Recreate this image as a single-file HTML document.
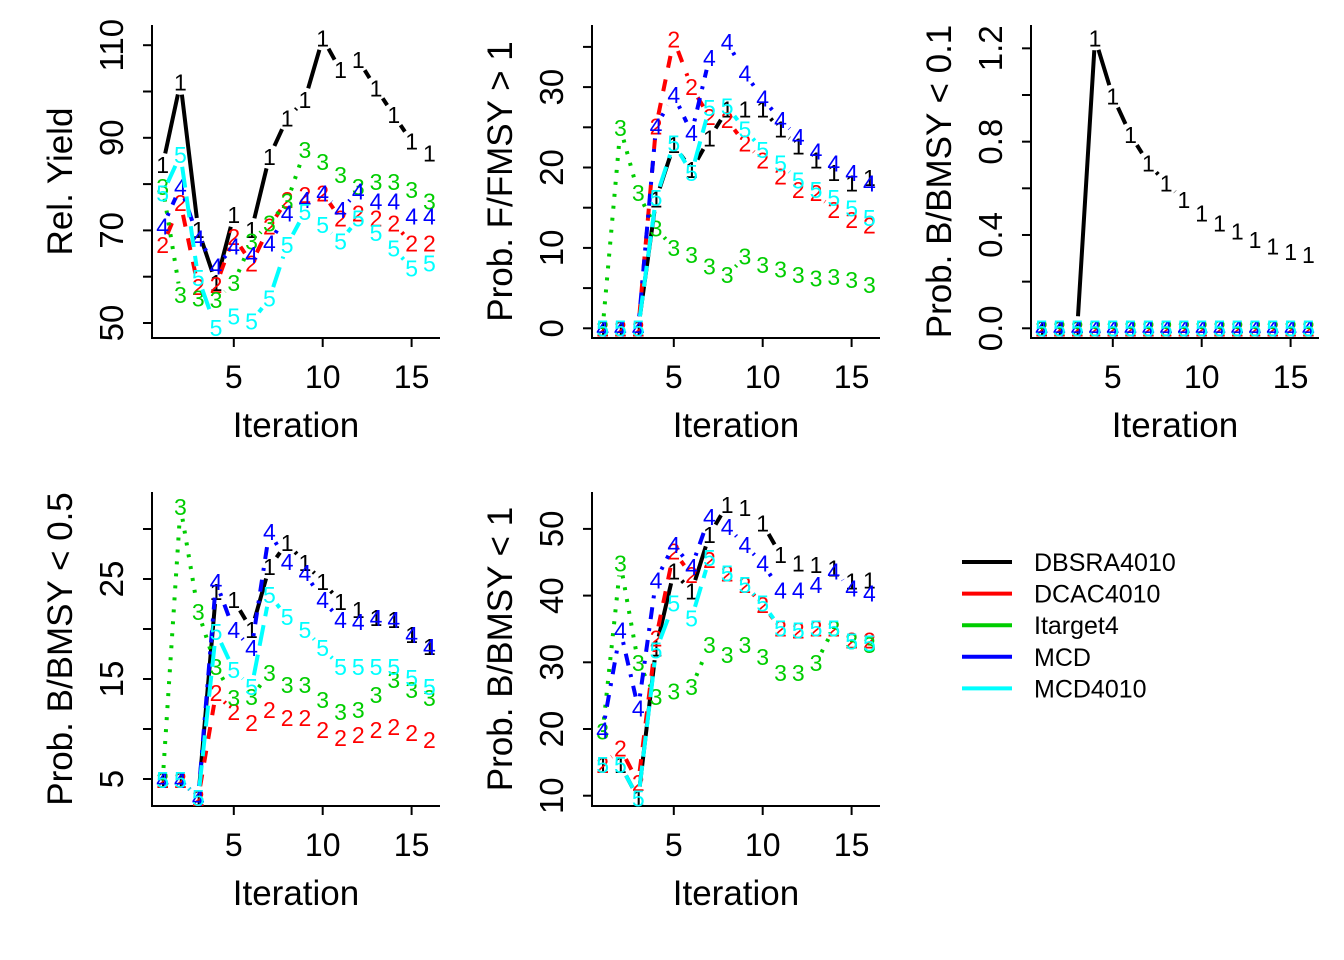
<!DOCTYPE html>
<html><head><meta charset="utf-8"><style>
html,body{margin:0;padding:0;background:#fff;}
svg{display:block;font-family:"Liberation Sans",Arial,sans-serif;}
</style></head><body>
<svg id="chart" width="1344" height="960" viewBox="0 0 1344 960" xmlns="http://www.w3.org/2000/svg">
<rect width="1344" height="960" fill="#fff"/>
</svg>
<script>
const iterations = [1,2,3,4,5,6,7,8,9,10,11,12,13,14,15,16];
const seriesNames = ["DBSRA4010","DCAC4010","Itarget4","MCD","MCD4010"];
// Panel 1: Rel. Yield
const yieldS1 = [84.1,101.9,70.1,58.6,73.3,70.1,85.9,94.2,98.2,111.5,104.6,106.8,100.7,94.9,89.2,86.6];
const yieldS2 = [66.8,75.9,57.8,58.2,68.6,62.9,70.8,76.6,77.6,78,72.6,73.7,72.6,71.5,67.2,67.2];
const yieldS3 = [79.4,56,55.3,55,58.6,67.6,71.5,76.2,87.4,84.8,82,79.4,80.5,80.5,78.7,76.2];
const yieldS4 = [70.8,79.4,68.3,62.2,66.5,64.7,67.2,73.7,76.6,78,74.4,78.4,76.2,76.2,73,73];
const yieldS5 = [78,86.3,59.7,48.9,51.4,50.3,55.3,66.8,74,71.2,67.6,72.6,69.4,66.1,61.8,62.9];
// Panel 2: Prob. F/FMSY > 1
const ffS1 = [0,0,0,16,22.8,19.7,23.6,27.2,27.2,27.2,24.7,22.6,20.9,19.3,18,18.7];
const ffS2 = [0,0,0,25.1,35.9,30,26.3,25.9,23,20.9,18.9,17.2,16.8,14.7,13.5,12.8];
const ffS3 = [0,24.9,16.8,12.4,10,9.1,7.7,6.6,8.9,7.9,7.3,6.6,6.2,6.4,6.0,5.4];
const ffS4 = [0,0,0,25.1,29,24.3,33.6,35.6,31.7,28.6,25.9,23.8,22,20.5,19.3,18];
const ffS5 = [0,0,0,16.2,23,19.3,27.4,27.6,24.7,22.2,20.5,18.4,17.2,16.2,14.9,13.7];
// Panel 3: Prob. B/BMSY < 0.1
const b01S1 = [0,0,0,1.243,0.993,0.829,0.707,0.621,0.55,0.493,0.45,0.414,0.378,0.35,0.328,0.314];
const b01S2 = [0,0,0,0,0,0,0,0,0,0,0,0,0,0,0,0];
const b01S3 = [0,0,0,0,0,0,0,0,0,0,0,0,0,0,0,0];
const b01S4 = [0,0,0,0,0,0,0,0,0,0,0,0,0,0,0,0];
const b01S5 = [0,0,0,0,0,0,0,0,0,0,0,0,0,0,0,0];
// Panel 4: Prob. B/BMSY < 0.5
const b05S1 = [4.9,4.9,3.1,23.7,22.9,19.9,26.2,28.6,26.6,24.7,22.7,21.9,21.1,20.9,19.4,18.2];
const b05S2 = [4.9,4.9,3.1,13.6,11.7,10.6,11.9,11.1,11.1,9.9,9.1,9.4,9.9,10.2,9.6,8.9];
const b05S3 = [4.9,32.2,21.7,16.2,13.1,13.2,15.6,14.4,14.4,12.9,11.7,11.9,13.4,14.9,13.9,13.1];
const b05S4 = [4.9,4.9,3.1,24.7,19.9,18.1,29.7,26.7,25.6,22.9,20.9,20.7,21.1,20.9,19.4,18.2];
const b05S5 = [4.9,4.9,3.1,19.7,15.9,14.2,23.4,21.2,19.9,18.1,16.2,16.2,16.2,16.2,15.1,14.2];
// Panel 5: Prob. B/BMSY < 1
const b1S1 = [14.6,14.6,9.6,32.1,43.6,40.6,49.1,53.6,53.1,50.8,46.1,44.8,44.6,44.1,42.1,42.3];
const b1S2 = [14.6,17.1,11.9,33.6,46.6,43.1,45.3,43.3,41.6,38.6,35.1,34.8,35.1,35.1,33.3,33.3];
const b1S3 = [19.6,44.8,29.9,24.8,25.6,26.3,32.6,31.1,32.6,30.8,28.4,28.4,29.9,35.1,33.1,32.6];
const b1S4 = [19.8,34.8,23.1,42.3,47.6,44.3,51.8,50.3,47.6,44.8,40.8,40.8,41.6,43.6,41.1,40.3];
const b1S5 = [14.6,14.6,9.6,31.8,38.8,36.6,45.6,43.3,41.6,38.8,35.1,34.8,35.1,35.1,33.1,32.8];
const xTicks = [5,10,15];
const yTicks1 = [50,60,70,80,90,100,110]; const yLabels1 = ["50","","70","","90","","110"];
const yTicks2 = [0,5,10,15,20,25,30,35]; const yLabels2 = ["0","","10","","20","","30",""];
const yTicks3 = [0,0.2,0.4,0.6,0.8,1.0,1.2]; const yLabels3 = ["0.0","","0.4","","0.8","","1.2"];
const yTicks4 = [5,10,15,20,25,30]; const yLabels4 = ["5","","15","","25",""];
const yTicks5 = [10,20,30,40,50]; const yLabels5 = ["10","20","30","40","50"];

const colors = ["#000000","#FF0000","#00CD00","#0000FF","#00FFFF"];
const dashes = ["none","12,12","3,9","3,9,12,9","21,9"];
const NS = "http://www.w3.org/2000/svg";
const svg = document.getElementById("chart");
function mk(tag, attrs, parent){const e=document.createElementNS(NS,tag);for(const k in attrs)e.setAttribute(k,attrs[k]);(parent||svg).appendChild(e);return e;}

const panels = [
 {name:"rel-yield",title:"Rel. Yield",left:152,right:440,top:25,bottom:338,x5:233.8,ya:50,pa:323,ppu:4.63,ticks:yTicks1,labels:yLabels1,data:[yieldS1,yieldS2,yieldS3,yieldS4,yieldS5]},
 {name:"prob-f-fmsy",title:"Prob. F/FMSY > 1",left:592,right:880,top:25,bottom:338,x5:673.8,ya:0,pa:328.3,ppu:8.04,ticks:yTicks2,labels:yLabels2,data:[ffS1,ffS2,ffS3,ffS4,ffS5]},
 {name:"prob-bbmsy-01",title:"Prob. B/BMSY < 0.1",left:1031,right:1319,top:25,bottom:338,x5:1112.8,ya:0,pa:328.3,ppu:233.3,ticks:yTicks3,labels:yLabels3,data:[b01S1,b01S2,b01S3,b01S4,b01S5]},
 {name:"prob-bbmsy-05",title:"Prob. B/BMSY < 0.5",left:152,right:440,top:492,bottom:806,x5:233.8,ya:5,pa:779,ppu:10,ticks:yTicks4,labels:yLabels4,data:[b05S1,b05S2,b05S3,b05S4,b05S5]},
 {name:"prob-bbmsy-1",title:"Prob. B/BMSY < 1",left:592,right:880,top:492,bottom:806,x5:673.8,ya:10,pa:795.7,ppu:6.67,ticks:yTicks5,labels:yLabels5,data:[b1S1,b1S2,b1S3,b1S4,b1S5]}
];

panels.forEach(p=>{
  const g = mk("g",{});
  
  
  const xs = v => p.x5 + (v-5)*17.78;
  const ys = v => p.pa - (v-p.ya)*p.ppu;
  const ax = mk("path",{d:`M${p.left},${p.top} L${p.left},${p.bottom} L${p.right},${p.bottom}`,fill:"none",stroke:"#000","stroke-width":2},g);
  
  
  xTicks.forEach(t=>{
    const x=xs(t);
    mk("line",{x1:x,y1:p.bottom,x2:x,y2:p.bottom+9,stroke:"#000","stroke-width":2},g);
    const tl=mk("text",{x:x,y:p.bottom+50,"text-anchor":"middle","font-size":32},g);
    tl.textContent=t;
    
    
  });
  const xt=mk("text",{x:(p.left+p.right)/2,y:p.bottom+99,"text-anchor":"middle","font-size":35},g);
  xt.textContent="Iteration";
  
  
  p.ticks.forEach((t,i)=>{
    const y=ys(t);
    mk("line",{x1:p.left-9,y1:y,x2:p.left,y2:y,stroke:"#000","stroke-width":2},g);
    if(p.labels[i]){
      const tx=p.left-29;
      const tl=mk("text",{x:tx,y:y,"text-anchor":"middle","font-size":33,transform:`rotate(-90 ${tx} ${y})`},g);
      tl.textContent=p.labels[i];
      
      
    }
  });
  const cy=(p.top+p.bottom)/2, tx=p.left-80;
  const yt=mk("text",{x:tx,y:cy,"text-anchor":"middle","font-size":35,transform:`rotate(-90 ${tx} ${cy})`},g);
  yt.textContent=p.title;
  
  
  p.data.forEach((arr,s)=>{
    const sg=mk("g",{},g);
    
    
    let d="";
    for(let i=0;i<arr.length-1;i++){
      const x1=xs(iterations[i]),y1=ys(arr[i]),x2=xs(iterations[i+1]),y2=ys(arr[i+1]);
      const L=Math.hypot(x2-x1,y2-y1),gap=12;
      if(L>2*gap){
        const ux=(x2-x1)/L,uy=(y2-y1)/L;
        d+=`M${(x1+ux*gap).toFixed(1)},${(y1+uy*gap).toFixed(1)} L${(x2-ux*gap).toFixed(1)},${(y2-uy*gap).toFixed(1)} `;
      }
    }
    if(d){
      const pl=mk("path",{d:d,fill:"none",stroke:colors[s],"stroke-width":4,"stroke-dasharray":dashes[s]},sg);
      
      
    }
    arr.forEach((v,i)=>{
      const t=mk("text",{x:xs(iterations[i]),y:ys(v)+8,"text-anchor":"middle","font-size":23,fill:colors[s]},sg);
      t.textContent=String(s+1);
      
      
    });
  });
});

const lg=mk("g",{});


seriesNames.forEach((n,i)=>{
  const y=562+i*31.6;
  const e=mk("g",{},lg);
  
  
  mk("line",{x1:962,y1:y,x2:1012,y2:y,stroke:colors[i],"stroke-width":4},e);
  const t=mk("text",{x:1034,y:y+9,"font-size":25,fill:"#000"},e);
  t.textContent=n;
});
</script>
</body></html>
